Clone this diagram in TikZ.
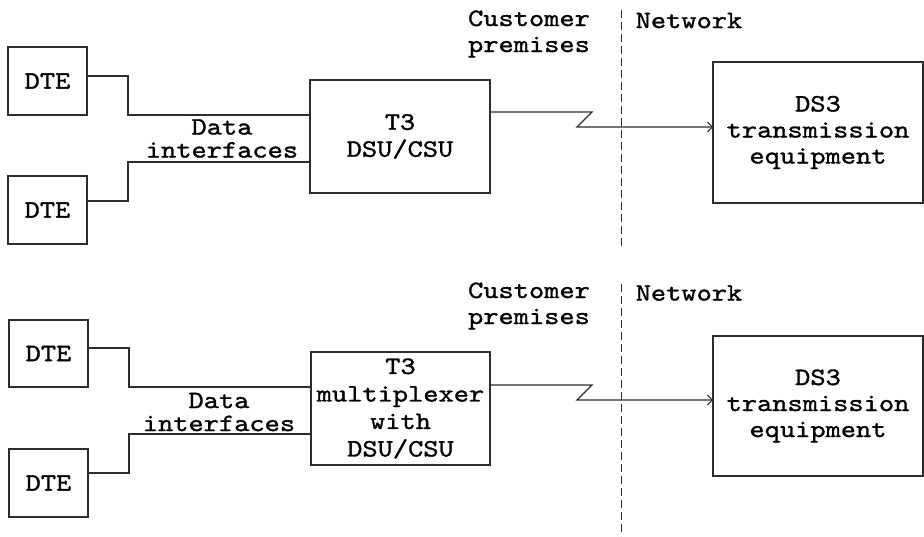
\documentclass[tikz,border=0pt]{standalone}
\usepackage{fontspec}
\newfontfamily\diagcour{lmmono10-regular}[Extension=.otf, FakeStretch=1.16, FakeBold=1.2]
\usetikzlibrary{arrows.meta}
\definecolor{lc}{RGB}{45,45,45}
\newcommand\diagfont{\diagcour\fontsize{25}{26}\selectfont}
\begin{document}
\begin{tikzpicture}[x=1pt, y=-1pt,
  box/.style={draw=lc, line width=1.2pt, inner sep=0pt, outer sep=0pt, align=center, font=\diagfont},
  lbl/.style={inner sep=0pt, outer sep=0pt, align=center, font=\diagfont},
  wire/.style={draw=lc, line width=1.2pt},
  arr/.style={-{Straight Barb[length=5pt,width=10pt,line width=1pt]}},
  divider/.style={draw=lc, line width=0.9pt, dash pattern=on 8pt off 4pt}]
\useasboundingbox (0,0) rectangle (924,536);

% ---------- top diagram ----------
\node[box, minimum width=79pt, minimum height=68pt] (dteA) at (47.5,81) {DTE};
\node[box, minimum width=79pt, minimum height=68pt] (dteB) at (47.5,210) {DTE};
\node[box, minimum width=180pt, minimum height=113pt, font=\diagcour\fontsize{25}{27}\selectfont] (dsu) at (400,136.5) {T3\\DSU/CSU};
\node[box, minimum width=210pt, minimum height=141pt] (ds3A) at (818,132.5) {DS3\\transmission\\equipment};
\node[lbl, font=\diagcour\fontsize{25}{23}\selectfont] (dataA) at (222,138.5) {Data\\interfaces};
\node[lbl] (custA) at (529,34) {Customer\\premises};
\node[lbl] (netA) at (689,20.5) {Network};
\coordinate (divAtop) at (621,10);
\coordinate (divAbot) at (621,247);

\draw[wire] ([yshift=5pt]dteA.east) -- ++(41,0) |- ([yshift=21.5pt]dsu.west);
\draw[wire] ([yshift=9pt]dteB.east) -- ++(41,0) |- ([yshift=-25.5pt]dsu.west);
\draw[wire, arr] ([yshift=24.5pt]dsu.east) -- ++(102,0) -- ++(-15,15) -- ([yshift=5.5pt]ds3A.west);
\draw[divider] (divAtop) -- (divAbot);

% ---------- bottom diagram ----------
\node[box, minimum width=79pt, minimum height=67pt] (dteC) at (48.5,353.5) {DTE};
\node[box, minimum width=79pt, minimum height=68pt] (dteD) at (48.5,483) {DTE};
\node[box, minimum width=179pt, minimum height=113pt, font=\diagcour\fontsize{25}{27.5}\selectfont] (mux) at (400.5,408.5) {T3\\multiplexer\\with\\DSU/CSU};
\node[box, minimum width=210pt, minimum height=140pt] (ds3B) at (818,406) {DS3\\transmission\\equipment};
\node[lbl, font=\diagcour\fontsize{25}{23}\selectfont] (dataB) at (219,412) {Data\\interfaces};
\node[lbl] (custB) at (529,306) {Customer\\premises};
\node[lbl] (netB) at (689,293) {Network};
\coordinate (divBtop) at (621,284);
\coordinate (divBbot) at (621,536);

\draw[wire] ([yshift=5.5pt]dteC.east) -- ++(41,0) |- ([yshift=21.5pt]mux.west);
\draw[wire] ([yshift=10pt]dteD.east) -- ++(41,0) |- ([yshift=-25.5pt]mux.west);
\draw[wire, arr] ([yshift=23.5pt]mux.east) -- ++(102,0) -- ++(-15,15) -- ([yshift=6pt]ds3B.west);
\draw[divider] (divBtop) -- (divBbot);
\end{tikzpicture}
\end{document}
